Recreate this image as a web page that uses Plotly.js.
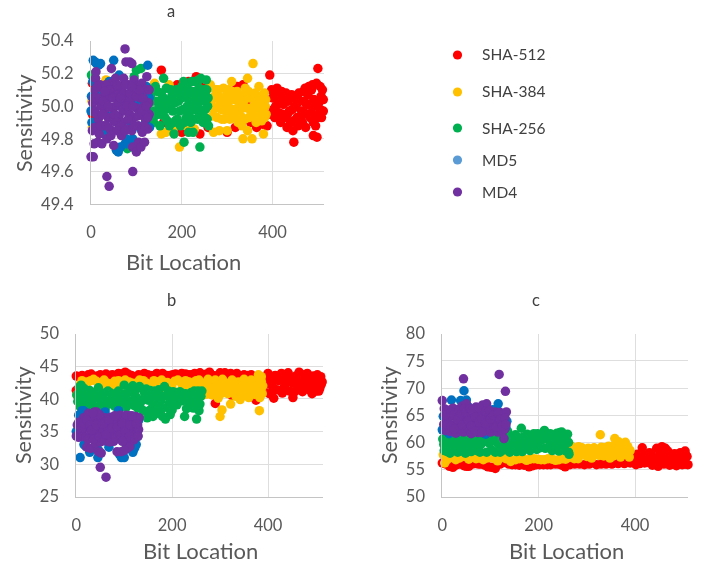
<!DOCTYPE html>
<html><head><meta charset="utf-8">
<script src="https://cdn.plot.ly/plotly-3.0.1.min.js"></script>
<style>html,body{margin:0;padding:0;background:#fff}#c{width:715px;height:565px;filter:blur(0.45px)}</style>
</head><body><div id="c"></div>
<script>
const seriesNames=["SHA-512","SHA-384","SHA-256","MD5","MD4"];
const seriesColors=["#ff0000","#ffc000","#00b050","#0070c0","#7030a0"];
const legendDot=["#ff0000","#ffc000","#00b050","#5b9bd5","#7030a0"];
const panelTitles=["a","b","c"];
const tickA=[49.4,49.6,49.8,50.0,50.2,50.4];
const tickB=[25,30,35,40,45,50];
const tickC=[50,55,60,65,70,75,80];

const aRed=[[3,50.14],[3,49.95],[155,50.22],[160,49.9],[190,50.13],[200,49.84],[215,50.15],[232,50.18],[245,50.15],[255,50.14],[240,49.83],[258,49.87],[290,50.02],[300,49.84],[305,49.97],[315,50.09],[318,49.87],[335,50.13],[345,50.0],[352,49.9],[365,49.87],[378,49.89],[388,49.88],[322,50.12],[394,50.19],[398,50.1],[400,50.05],[402,49.98],[405,49.93],[410,50.11],[412,50.04],[414,49.96],[418,49.9],[420,50.09],[424,50.01],[427,49.93],[430,50.08],[432,49.87],[435,50.03],[437,49.97],[440,49.9],[442,50.07],[445,49.85],[447,49.78],[450,50.0],[452,50.05],[454,49.93],[456,49.88],[458,50.08],[460,50.03],[464,49.97],[466,49.9],[468,50.09],[470,50.03],[473,49.87],[476,49.95],[478,50.07],[481,50.01],[483,49.93],[486,50.1],[488,50.13],[490,49.9],[490,49.82],[493,50.0],[495,49.88],[497,50.14],[498,49.81],[500,50.23],[502,50.02],[503,49.95],[505,50.12],[507,50.06],[508,49.93],[510,50.1],[512,50.04],[512,49.97],[480,50.12],[472,50.11],[505,49.98],[396,49.95],[407,50.0],[416,50.07],[422,49.95],[433,49.95],[444,49.98],[455,50.02],[462,49.92],[469,49.96],[475,50.01],[486,49.96],[491,50.04],[499,49.93],[404,50.08],[426,50.05],[447,49.91],[438,50.06]];
const aYellow=[[2,50.03],[3,49.87],[33,50.16],[140,50.14],[165,49.84],[155,49.83],[172,50.13],[180,49.86],[195,49.75],[210,49.88],[228,49.86],[263,50.13],[268,49.94],[270,49.84],[272,50.06],[276,49.99],[280,50.1],[283,49.85],[284,50.03],[288,49.92],[292,50.11],[295,50.05],[297,49.97],[300,49.85],[303,50.1],[306,49.92],[310,50.15],[312,50.05],[315,49.98],[318,49.93],[322,50.09],[326,50.02],[330,49.94],[333,49.88],[335,49.8],[337,50.07],[340,50.11],[342,49.99],[345,50.17],[345,49.85],[348,49.93],[350,50.05],[355,49.8],[357,50.26],[358,50.0],[360,49.93],[362,50.08],[366,50.01],[370,50.12],[372,49.92],[375,50.05],[378,49.97],[380,49.83],[382,50.08],[384,50.0],[386,49.95],[385,50.04],[265,50.03],[270,49.98],[274,50.1],[278,49.93],[282,50.06],[287,49.98],[291,50.03],[294,49.92],[299,50.07],[302,50.01],[308,49.97],[311,50.09],[316,50.04],[320,49.97],[324,49.9],[328,50.06],[332,49.99],[336,50.03],[339,49.92],[344,50.05],[347,50.09],[352,49.97],[356,50.05],[361,49.98],[364,49.9],[368,50.06],[372,50.02],[376,49.91],[380,50.03],[383,49.93],[369,49.95]];
const aGreen=[[1,50.19],[30,49.84],[80,49.74],[95,50.18],[110,50.23],[100,50.22],[132,50.07],[135,49.97],[138,49.9],[142,50.12],[145,50.03],[148,49.95],[152,49.88],[155,50.08],[158,50.0],[160,50.17],[163,49.93],[166,50.11],[170,50.02],[173,49.88],[178,50.06],[180,49.97],[183,49.83],[188,50.1],[190,49.92],[193,50.03],[197,49.88],[200,50.12],[203,49.98],[205,49.78],[207,50.07],[210,49.93],[213,50.14],[215,49.84],[217,50.03],[220,49.9],[223,50.09],[225,49.84],[228,49.98],[230,50.15],[233,50.05],[235,49.92],[238,50.11],[240,49.75],[241,49.97],[242,50.17],[245,50.04],[247,49.9],[250,50.1],[252,49.98],[254,50.16],[256,49.92],[258,50.05],[259,49.88],[255,50.1],[237,50.16],[222,50.15],[246,49.97],[136,50.03],[140,49.94],[146,50.09],[150,50.0],[156,49.95],[160,50.05],[165,49.98],[168,49.91],[174,50.0],[176,50.1],[184,50.02],[186,49.91],[192,50.08],[195,49.97],[200,50.05],[206,49.9],[208,50.12],[212,50.0],[216,49.95],[219,50.08],[224,50.02],[227,49.92],[231,50.09],[235,50.0],[239,49.95],[243,50.08],[249,50.03],[251,49.93],[257,50.0],[204,50.15],[183,49.9],[215,50.1]];
const aBlue=[[0,49.97],[1,50.06],[2,49.9],[4,50.15],[5,50.28],[9,50.27],[12,50.26],[17,50.25],[21,50.26],[30,49.83],[25,50.09],[40,50.15],[50,50.28],[35,50.05],[55,50.05],[56,49.73],[60,49.72],[62,50.19],[65,49.75],[75,49.77],[78,49.8],[82,49.77],[88,50.12],[92,49.8],[100,49.73],[105,50.02],[118,50.0],[122,50.12],[125,50.25],[128,50.05],[129,49.87],[127,49.95],[110,49.86],[15,50.07],[12,49.9],[28,50.02],[42,49.94],[65,50.1],[70,49.85],[88,49.9],[98,50.02],[115,50.1],[120,49.9]];
const aPurple=[[0,49.69],[3,49.85],[4,50.02],[5,49.69],[7,49.77],[8,49.87],[8,49.97],[9,50.1],[10,50.17],[11,50.21],[14,50.04],[15,49.78],[16,49.92],[18,49.83],[20,50.13],[22,50.0],[24,49.77],[26,50.11],[28,49.88],[30,49.97],[32,50.06],[35,49.8],[35,49.57],[37,49.93],[40,49.51],[42,49.86],[42,50.05],[45,50.14],[45,50.23],[47,49.99],[50,49.76],[50,49.91],[52,50.1],[54,50.17],[55,50.0],[58,49.85],[60,50.07],[62,49.94],[65,50.12],[67,49.82],[68,50.02],[70,49.9],[72,50.17],[75,50.35],[75,49.97],[77,50.27],[78,50.05],[80,49.86],[83,50.13],[85,50.27],[85,49.95],[88,50.04],[90,50.26],[90,49.85],[92,49.6],[92,49.75],[95,50.16],[95,49.93],[97,50.07],[100,49.99],[100,49.72],[102,50.12],[104,49.88],[105,49.78],[108,50.05],[110,49.95],[110,49.75],[112,50.14],[113,49.84],[117,50.0],[118,49.78],[120,49.92],[122,50.1],[123,50.18],[125,49.86],[127,50.02],[128,49.95],[128,50.1],[6,50.05],[12,49.95],[13,50.12],[19,50.05],[21,49.88],[25,49.95],[27,50.03],[33,50.13],[34,49.88],[38,50.0],[40,50.1],[44,49.82],[48,50.05],[52,49.95],[56,49.9],[58,50.13],[62,50.02],[65,49.88],[70,49.98],[72,50.08],[75,49.85],[80,50.0],[82,49.92],[86,50.08],[92,50.0],[94,49.88],[100,50.06],[103,49.94],[106,50.1],[112,49.97],[115,50.05],[118,49.88],[122,50.0],[125,49.93],[76,50.13],[30,50.09],[65,50.05],[90,50.12]];

const bRed=[[0,43.5],[0,41.3],[12,43.6],[25,43.7],[38,43.4],[50,43.7],[62,43.8],[75,43.7],[88,43.9],[102,44.1],[115,43.6],[130,43.7],[142,43.9],[155,43.6],[168,43.9],[180,43.9],[195,43.6],[207,43.8],[220,43.9],[235,43.7],[247,43.9],[258,44.0],[272,43.8],[278,44.1],[292,43.5],[300,44.0],[310,44.0],[322,43.9],[335,43.9],[350,43.7],[365,43.7],[290,39.3],[375,39.8],[325,40.5],[392,41.1],[392,42.2],[393,43.3],[400,43.9],[403,40.8],[405,42.3],[412,40.1],[415,43.6],[418,41.4],[422,42.8],[428,43.9],[430,40.9],[434,41.9],[440,43.1],[442,44.0],[445,41.2],[452,40.2],[452,42.4],[458,43.5],[462,41.5],[465,44.1],[468,42.6],[472,41.1],[476,43.7],[480,42.0],[484,43.2],[488,41.3],[492,40.8],[495,43.5],[497,42.3],[500,41.2],[503,43.7],[505,42.7],[508,41.6],[510,43.4],[511,42.2],[513,42.6],[6,43.4],[18,43.3],[31,43.8],[44,43.5],[56,43.5],[68,43.6],[82,43.6],[95,43.8],[108,43.8],[122,43.4],[136,43.6],[149,43.7],[162,43.6],[174,43.7],[188,43.6],[201,43.7],[214,43.5],[228,43.8],[241,43.7],[253,43.6],[265,43.7],[285,43.6],[305,43.7],[316,43.7],[329,43.7],[343,43.5],[358,43.6],[398,42.6],[410,41.8],[425,41.3],[438,42.5],[448,43.3],[456,41.1],[462,42.8],[474,42.3],[482,43.9],[490,42.4],[500,42.8],[506,41.2],[410,43.2],[435,43.6]];
const bYellow=[[1,40.6],[8,42.2],[20,41.9],[30,42.8],[36,43],[50,42.2],[65,42.4],[80,42.7],[95,42.3],[110,42.6],[125,42.4],[140,42.8],[155,42.1],[170,42.6],[190,42.5],[205,42.7],[220,42.3],[235,42.6],[250,42.8],[262,42.4],[268,41.5],[270,40.7],[275,43],[280,42],[283,40.6],[290,42.9],[292,41.3],[296,40.1],[300,37.3],[304,38.3],[305,43],[308,41.6],[312,42.4],[316,40.8],[322,39.2],[325,42.9],[328,41.4],[333,40.4],[338,42.6],[342,39.9],[345,41.6],[350,43],[352,40.6],[356,42],[360,40.2],[365,42.9],[368,41.3],[372,40.7],[376,42.3],[380,43.7],[382,38.2],[384,41.4],[386,42.7],[388,40.8],[389,42],[12,42.8],[24,42.6],[42,42.7],[58,42.9],[72,42.3],[88,42.8],[102,42.9],[117,42.4],[132,42.9],[147,42.4],[162,42.8],[178,42.9],[198,42.3],[212,42.9],[228,42.8],[242,42.4],[256,42.9],[60,41.9],[80,41.8],[120,41.7],[150,41.6],[180,41.8],[200,41.6],[230,41.8],[255,41.9],[272,42.5],[278,41],[285,41.8],[298,42.5],[302,40.8],[318,42.1],[322,41],[332,42.2],[340,41],[348,42.4],[358,41.1],[362,42.3],[370,42.6],[378,41.1],[383,40.2],[386,43.4],[298,41.5]];
const bGreen=[[1,40.6],[3,39.6],[6,41.8],[8,38.8],[10,42.1],[14,40.2],[18,41],[22,38.9],[26,39.9],[30,40.8],[36,38.6],[40,40.1],[46,41.7],[50,39.1],[56,40.7],[60,38.4],[66,41.2],[70,39.7],[76,40.6],[80,38.9],[86,41],[90,39.5],[96,40.4],[100,42.1],[104,38.7],[110,41],[114,39.6],[118,42],[124,40.4],[128,38.6],[132,41.9],[136,39.7],[140,38.2],[142,41],[148,37.1],[150,39.8],[154,41.3],[160,37.3],[162,38.9],[166,40.5],[170,37.8],[176,39.6],[180,37.3],[184,41.9],[186,36.9],[188,40.5],[190,38.7],[196,37.6],[198,40],[206,40.9],[210,39.1],[216,41.1],[220,39.7],[226,37.3],[228,40.8],[234,39.5],[240,41],[244,38.6],[248,40],[251,36.9],[254,41.2],[258,39.2],[260,40.4],[262,41.2],[5,40.9],[12,39.2],[16,41.6],[22,40.2],[28,41.3],[32,39.5],[38,41],[44,40.3],[50,40.9],[52,38.8],[58,39.7],[62,41],[68,39.2],[72,40.9],[78,39.6],[84,40.1],[88,41.2],[94,38.9],[100,40.7],[106,39.9],[112,41.5],[120,39],[125,41.5],[130,39.8],[134,38.6],[140,40],[146,41.5],[152,38.2],[156,40.2],[158,38.6],[164,41.2],[168,39.2],[172,41.4],[178,38.4],[182,40.4],[192,41.2],[194,39.3],[202,41.1],[208,39.6],[214,40.1],[222,40.8],[230,38.5],[236,40.4],[242,39.8],[246,41.2],[252,39.3],[256,38.2],[200,38.3]];
const bBlue=[[0,35],[5,37.5],[8,31],[12,38.2],[15,38.2],[16,33],[20,32.7],[25,34],[28,31.8],[35,34.8],[45,31],[46,32.2],[60,33.6],[68,32.6],[75,35.2],[88,38.2],[90,31.5],[94,31],[100,31],[105,33],[108,32.4],[118,31.8],[122,32.5],[125,33],[128,34.2],[130,36.7],[4,35.8],[10,36.5],[18,37.5],[60,38],[66,36.5],[110,36.5],[120,35],[30,37],[40,34.8],[98,34.3]];
const bPurple=[[0,34.3],[2,36],[5,34.1],[8,35.3],[10,36.4],[14,34.3],[15,37.1],[18,35.5],[20,34.2],[22,32.6],[25,37.8],[26,35.9],[30,32.4],[30,34.4],[34,36.8],[38,35.3],[38,38],[40,33.2],[44,37.4],[44,34.5],[48,35.8],[46,31.9],[50,33.4],[52,31.7],[52,36.6],[50,29.5],[55,34.9],[60,37.1],[62,28],[65,35.7],[66,33.5],[70,34.7],[72,37.2],[76,36.2],[78,33.5],[80,35.1],[84,36.9],[85,31.9],[88,33.9],[90,35.8],[92,37.5],[94,31.9],[98,35],[100,36.6],[104,33.7],[106,32.4],[108,35.6],[110,37.4],[112,32.7],[115,34.6],[118,36.3],[120,33.7],[122,35.4],[124,37.3],[126,34.7],[128,36],[130,35.3],[131,37.1],[5,36.4],[12,35.5],[16,36.2],[22,36.8],[24,33.8],[28,36],[32,35.2],[36,33.8],[42,36],[42,38],[48,34.2],[48,37.6],[55,36.1],[58,33.6],[62,34.5],[68,36.8],[70,33.4],[74,35.5],[82,34],[86,35.7],[92,34.5],[96,36.2],[102,35],[104,37.5],[110,34.2],[112,36],[116,37.4],[122,34],[125,36.2],[129,34.3],[35,37.8],[80,37.4],[96,33.5],[100,32.1]];

const cRed=[[0,56.2],[15,55.6],[22,55.4],[35,56],[45,55.7],[55,55.6],[68,56.1],[80,56],[95,55.5],[110,55.2],[130,56.3],[145,55.9],[160,55.8],[180,55.5],[195,55.9],[210,55.9],[225,55.9],[242,56],[255,55.5],[275,56],[295,55.9],[320,55.9],[340,56],[365,56.1],[390,56.2],[400,56.8],[405,57.8],[410,56.1],[415,59],[418,57.5],[425,56.3],[430,58.1],[436,55.8],[440,57],[445,58.9],[448,55.6],[452,57.7],[456,59.2],[460,56],[465,57.2],[468,58.4],[472,55.8],[476,56.8],[482,57.9],[486,55.7],[490,56.7],[494,58.1],[498,55.9],[500,57],[504,58.4],[506,56],[508,57.4],[510,55.9],[511,56.7],[512,58.3],[514,56.6],[8,56],[28,55.8],[40,56.1],[50,55.6],[62,56],[75,56],[88,55.8],[102,55.4],[120,56],[138,56],[152,55.9],[170,55.8],[188,55.7],[202,55.9],[218,55.9],[235,56],[248,55.8],[265,55.9],[285,56],[305,56],[330,56],[352,56],[378,56.1],[402,55.9],[412,57.4],[420,56.2],[428,57],[434,57.8],[442,56.1],[450,56.7],[458,57.7],[463,58.9],[470,57.3],[478,56],[484,56.9],[492,57.7],[502,56],[506,57.6]];
const cYellow=[[2,57.7],[5,56.2],[15,57.5],[28,56.8],[42,57.4],[55,56.9],[70,57],[85,56.8],[100,57.2],[115,56.6],[132,57],[142,56.5],[150,60.2],[160,57],[175,56.7],[190,57],[205,56.8],[220,57],[235,56.7],[250,57],[262,57.2],[268,59.3],[270,57.6],[278,58.7],[282,57],[290,59],[295,57.8],[303,58.9],[310,57.1],[315,59],[320,58],[328,61.4],[330,59.1],[335,57.5],[342,58.5],[348,57.1],[352,59.2],[358,60.7],[360,58],[366,60.1],[370,57.3],[375,59.5],[380,60],[382,58.3],[385,59.2],[388,57.3],[390,58.5],[10,56.8],[20,57.2],[35,57.1],[48,57.4],[62,57.3],[78,57.1],[92,57.1],[108,57],[124,57.3],[138,57],[152,56.8],[168,57],[182,56.9],[198,56.9],[212,56.8],[228,56.9],[242,56.8],[256,56.9],[266,58],[274,57],[284,58.1],[300,57.4],[306,58.1],[325,57.6],[338,59],[345,59.3],[355,57.5],[362,59.2],[372,58.3],[378,58.5],[386,57.8],[283,59.2],[347,58.2]];
const cGreen=[[1,60.6],[4,58.5],[8,59.6],[12,60.9],[16,58],[20,59.3],[24,61.2],[30,60.5],[32,58.2],[38,59.5],[42,60.7],[48,58],[50,59.6],[58,61.1],[60,58.3],[68,60],[72,58.5],[80,59.6],[88,61],[92,58.2],[98,59.8],[106,60.8],[110,58.2],[116,59.7],[122,61],[128,58.6],[134,60.2],[136,62],[140,58.2],[146,61],[150,59.2],[156,60.6],[164,62.6],[166,58.3],[172,60.1],[176,61.5],[182,58.5],[186,60.3],[190,61.6],[196,58.7],[200,60.3],[208,61.3],[212,62.2],[214,58.9],[220,60.5],[224,61.6],[228,58.5],[234,60.1],[238,61.7],[242,58.4],[246,60.3],[248,61.9],[252,59.1],[256,61],[260,61.5],[262,58.2],[263,57.8],[262,60],[3,59.6],[10,58.3],[14,60],[18,61.3],[26,58.5],[28,59.7],[35,60.8],[40,58.4],[46,59.4],[54,60.4],[56,58.5],[64,59.3],[75,60.8],[78,58.2],[84,60],[95,60.9],[102,58.6],[113,60.3],[120,58.2],[125,60],[130,61],[138,59.8],[143,59],[148,60.8],[154,58.3],[160,59.2],[168,61],[174,59],[180,60.2],[188,59.3],[194,60.6],[202,59],[206,60.4],[216,60.8],[222,59.2],[232,58.7],[236,61.3],[244,59.7],[250,61.6],[255,58.5],[258,60],[244,61.8],[198,61.6],[152,61.4]];
const cBlue=[[0,62.3],[2,64.8],[10,62],[14,61.6],[19,67.8],[30,61.8],[38,67.7],[45,69.5],[50,67.8],[55,66.5],[78,65.1],[90,61.5],[105,66],[116,67.1],[122,62],[128,64.7],[132,62.8],[134,63.9],[6,63.5],[22,62.5],[60,65],[85,63],[110,62.5]];
const cPurple=[[0,67.7],[3,63.3],[4,66.2],[6,62.2],[8,64.5],[12,65.9],[14,63.4],[16,62],[20,64.8],[22,66.3],[26,63.2],[28,61.7],[30,65.4],[34,62.4],[36,66.2],[38,64],[44,71.7],[42,66.7],[44,61.9],[48,64.8],[50,67.1],[52,62.7],[56,66],[58,63.8],[60,61.6],[64,65.2],[66,62.9],[70,66.5],[72,64],[74,61.8],[78,65.5],[80,63],[84,66.9],[86,64.6],[88,62.1],[92,67.1],[94,65.1],[96,63.2],[100,61.9],[102,65.2],[104,63.7],[108,62.5],[110,65.6],[113,64],[115,61.9],[118,72.5],[120,65.5],[122,63.2],[124,61.8],[126,65.2],[128,64.1],[128,60.7],[130,62.5],[131,69.4],[133,65.6],[5,65],[10,63.2],[18,65.5],[18,63],[24,65],[24,62.5],[32,64.2],[34,65.8],[40,65.3],[42,63.2],[46,66.2],[50,65.5],[54,64],[58,66.2],[60,63],[62,65.9],[68,64.7],[68,62],[76,66.4],[76,63.7],[82,64.4],[82,61.8],[90,65.7],[90,63.5],[98,65.9],[100,64.3],[106,65],[112,62.8],[116,65.3],[120,64.2],[125,63],[130,64.5],[132,63.3]];

const panels=[
 {tr:[aRed,aYellow,aGreen,aBlue,aPurple],px:[91,324],py:[40.7,204.3],yr:[49.4,50.4],tick:tickA,fmt:".1f",title:panelTitles[0],tx:171,ty:11,xt:183,xty:261,yty:123,ytx:24,sc:181.5/400},
 {tr:[bRed,bYellow,bGreen,bBlue,bPurple],px:[76.3,323.3],py:[333.7,496.7],yr:[25,50],tick:tickB,fmt:"d",title:panelTitles[1],tx:171,ty:300,xt:200,xty:550,yty:415,ytx:23,sc:191.7/400},
 {tr:[cRed,cYellow,cGreen,cBlue,cPurple],px:[442.3,688],py:[333.7,496.7],yr:[50,80],tick:tickC,fmt:"d",title:panelTitles[2],tx:536,ty:300,xt:566,xty:550,yty:415,ytx:389,sc:192.7/400}
];
const W=715,H=565,FONT="Lato, 'Open Sans', sans-serif",TXT="#595959";
const data=[],layout={width:W,height:H,margin:{l:0,r:0,t:0,b:0},paper_bgcolor:"#fff",plot_bgcolor:"#fff",showlegend:false,annotations:[],shapes:[]};
panels.forEach((p,i)=>{
 const s=i?String(i+1):"";
 p.tr.forEach((pts,j)=>data.push({type:"scatter",mode:"markers",name:seriesNames[j],xaxis:"x"+s,yaxis:"y"+s,x:pts.map(d=>d[0]),y:pts.map(d=>d[1]),cliponaxis:false,marker:{color:seriesColors[j],size:9.5,line:{width:0}},hoverinfo:"skip"}));
 layout["xaxis"+s]={domain:[p.px[0]/W,p.px[1]/W],range:[0,(p.px[1]-p.px[0])/p.sc],tickvals:[0,200,400],showgrid:true,gridcolor:"#dedede",gridwidth:1,showline:true,linecolor:"#c4c4c4",linewidth:1,ticks:"",zeroline:false,anchor:"y"+s,tickfont:{family:FONT,size:16.5,color:TXT},ticklabelstandoff:13};
 layout["yaxis"+s]={domain:[1-p.py[1]/H,1-p.py[0]/H],range:p.yr,tickvals:p.tick,tickformat:p.fmt,showgrid:true,gridcolor:"#dedede",gridwidth:1,showline:true,linecolor:"#c4c4c4",linewidth:1,ticks:"",zeroline:false,anchor:"x"+s,tickfont:{family:FONT,size:16.5,color:TXT},ticklabelstandoff:13};
 const ann=(text,x,y,size,col,extra)=>layout.annotations.push(Object.assign({text,xref:"paper",yref:"paper",x:x/W,y:1-y/H,showarrow:false,xanchor:"center",yanchor:"middle",font:{family:FONT,size,color:col}},extra||{}));
 ann(p.title,p.tx,p.ty,16.5,"#404040");
 ann("Bit Location",p.xt,p.xty,22,TXT);
 ann("Sensitivity",p.ytx,p.yty,21.5,TXT,{textangle:-90});
});
const legendY=[55,92,128,160,192];
seriesNames.forEach((n,j)=>{
 const cx=457.5,cy=legendY[j],r=4.6;
 layout.shapes.push({type:"circle",xref:"paper",yref:"paper",x0:(cx-r)/W,x1:(cx+r)/W,y0:1-(cy+r)/H,y1:1-(cy-r)/H,fillcolor:legendDot[j],line:{width:0}});
 layout.annotations.push({text:n,xref:"paper",yref:"paper",x:480/W,y:1-(cy-0.5)/H,showarrow:false,xanchor:"left",yanchor:"middle",font:{family:FONT,size:15.5,color:"#404040"}});
});
Plotly.newPlot("c",data,layout,{staticPlot:true,displayModeBar:false});
</script></body></html>
